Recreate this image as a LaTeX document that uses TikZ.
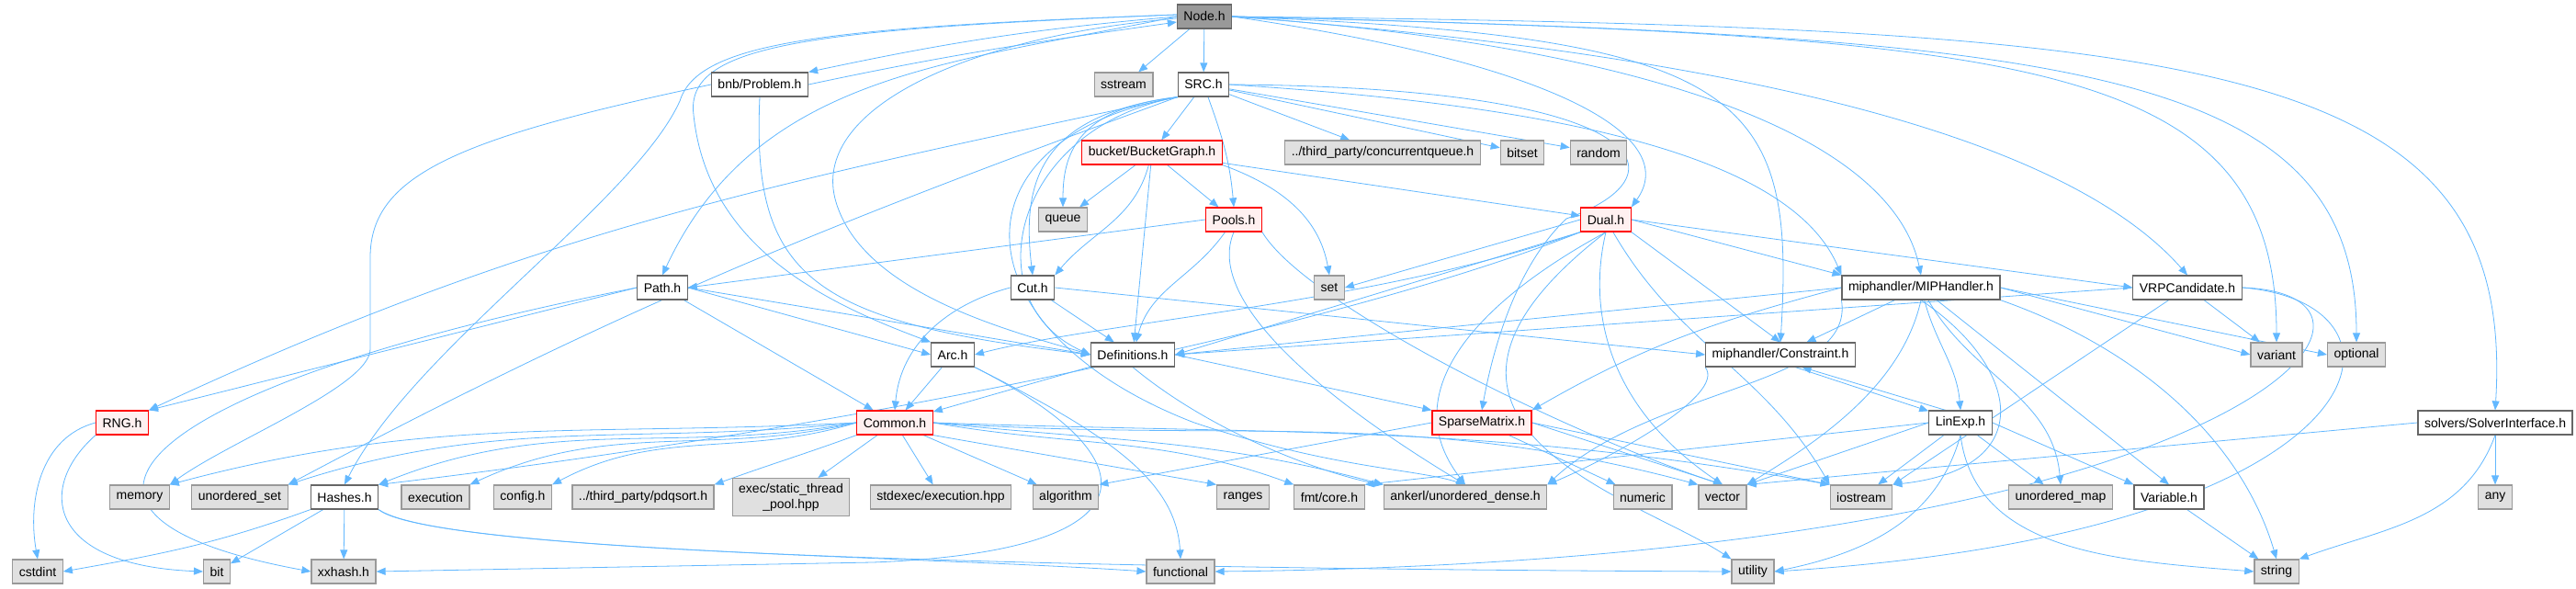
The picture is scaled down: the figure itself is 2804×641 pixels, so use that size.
\documentclass[tikz,border=0pt]{standalone}
\usepackage{fontspec}
\setmainfont{Liberation Sans}
\usepackage{tikz}
\usetikzlibrary{arrows.meta,backgrounds}

\begin{document}
\begin{tikzpicture}[x=0.5pt, y=-0.5pt, line width=0.6pt,
    dep/.style={draw=edgeblue, -{Triangle[length=5pt,width=4pt]}},
    hdr/.style={draw=usrline, fill=white, inner xsep=3.5pt, inner ysep=0pt, minimum height=13pt, font=\fontsize{7}{8.4}\selectfont, align=center},
    sys/.style={hdr, draw=sysline, fill=sysfill},
    trunc/.style={hdr, draw=red, fill=truncfill},
    root/.style={hdr, fill=rootfill}]
    \definecolor{edgeblue}{HTML}{63B8FF}\definecolor{sysfill}{HTML}{E0E0E0}\definecolor{sysline}{HTML}{999999}
    \definecolor{usrline}{HTML}{666666}\definecolor{rootfill}{HTML}{999999}\definecolor{truncfill}{HTML}{FFF0F0}
    \useasboundingbox (0,0) rectangle (2804,641);
    \node[root]  (node)     at (1311,18)  {Node.h};
    \node[sys]   (sstream)  at (1223,92)  {sstream};
    \node[hdr]   (src)      at (1310,92)  {SRC.h};
    \node[hdr]   (problem)  at (827,92)   {bnb/Problem.h};
    \node[trunc] (bucket)   at (1254,166) {bucket/BucketGraph.h};
    \node[sys]   (cqueue)   at (1505,166) {../third\_party/concurrentqueue.h};
    \node[sys]   (bitset)   at (1657,166) {bitset};
    \node[sys]   (random)   at (1740,166) {random};
    \node[sys]   (queue)    at (1157,239) {queue};
    \node[trunc] (pools)    at (1343,239) {Pools.h};
    \node[trunc] (dual)     at (1748,239) {Dual.h};
    \node[hdr]   (path)     at (721,313)  {Path.h};
    \node[hdr]   (cut)      at (1124,313) {Cut.h};
    \node[sys]   (set)      at (1447,313) {set};
    \node[hdr]   (mip)      at (2091,313) {miphandler/MIPHandler.h};
    \node[hdr]   (vrp)      at (2381,313) {VRPCandidate.h};
    \node[hdr]   (arc)      at (1037,386) {Arc.h};
    \node[hdr]   (defs)     at (1233,386) {Definitions.h};
    \node[hdr]   (constr)   at (1938,386) {miphandler/Constraint.h};
    \node[sys]   (variant)  at (2478,386) {variant};
    \node[sys]   (optional) at (2565,386) {optional};
    \node[trunc] (rng)      at (133,460)  {RNG.h};
    \node[trunc] (common)   at (974,460)  {Common.h};
    \node[trunc] (sparse)   at (1613,460) {SparseMatrix.h};
    \node[hdr]   (linexp)   at (2134,460) {LinExp.h};
    \node[hdr]   (solver)   at (2716,460) {solvers/SolverInterface.h};
    \node[sys]   (memory)   at (152,541)  {memory};
    \node[sys]   (uset)     at (261,541)  {unordered\_set};
    \node[hdr]   (hashes)   at (375,541)  {Hashes.h};
    \node[sys]   (execution) at (474,541) {execution};
    \node[sys]   (config)   at (569,541)  {config.h};
    \node[sys]   (pdqsort)  at (700,541)  {../third\_party/pdqsort.h};
    \node[sys, minimum height=20.5pt] (pool) at (861,541) {exec/static\_thread\\\_pool.hpp};
    \node[sys]   (stdexec)  at (1024,541) {stdexec/execution.hpp};
    \node[sys]   (algorithm) at (1160,541) {algorithm};
    \node[sys]   (ranges)   at (1353,541) {ranges};
    \node[sys]   (fmt)      at (1447,541) {fmt/core.h};
    \node[sys]   (ankerl)   at (1595,541) {ankerl/unordered\_dense.h};
    \node[sys]   (numeric)  at (1788,541) {numeric};
    \node[sys]   (vector)   at (1875,541) {vector};
    \node[sys]   (iostream) at (2026,541) {iostream};
    \node[sys]   (umap)     at (2243,541) {unordered\_map};
    \node[hdr]   (variable) at (2361,541) {Variable.h};
    \node[sys]   (any)      at (2716,541) {any};
    \node[sys]   (cstdint)  at (41,622)   {cstdint};
    \node[sys]   (bit)      at (236,622)  {bit};
    \node[sys]   (xxhash)   at (374,622)  {xxhash.h};
    \node[sys]   (functional) at (1285,622) {functional};
    \node[sys]   (utility)  at (1908,622) {utility};
    \node[sys]   (string)   at (2478,622) {string};
    \begin{pgfonlayer}{background}
    \draw[dep] (node) -- (sstream);
    \draw[dep] (node) -- (src);
    \draw[dep] (node.west) to[out=185,in=12] (problem.north east);
    \draw[dep] (problem.east) to[out=12,in=188] ([yshift=-3pt]node.west);
    \draw[dep] (node.west) to[out=192,in=65] (path.north);
    \draw[dep] ([yshift=1pt]node.west) .. controls (900,30) and (760,45) .. (740,110) .. controls (690,220) and (450,380) .. (hashes.north);
    \draw[dep] ([yshift=1pt]node.west) .. controls (880,32) and (745,48) .. (755,125) .. controls (770,270) and (900,330) .. (arc.north west);
    \draw[dep] ([yshift=-1pt]node.west) .. controls (1050,40) and (880,120) .. (910,220) .. controls (940,320) and (1100,360) .. (defs.west);
    \draw[dep] (node.east) .. controls (1700,70) and (1830,150) .. (dual.north east);
    \draw[dep] (node.east) .. controls (1800,50) and (2060,150) .. (mip.north);
    \draw[dep] (node.east) .. controls (1900,40) and (1955,100) .. (constr.north);
    \draw[dep] (node.east) .. controls (1900,60) and (2250,150) .. (vrp.north);
    \draw[dep] (node.east) .. controls (2200,40) and (2478,60) .. (variant.north);
    \draw[dep] (node.east) .. controls (2250,40) and (2565,70) .. (optional.north);
    \draw[dep] (node.east) .. controls (2400,30) and (2740,60) .. (solver.north);
    \draw[dep] (problem.west) .. controls (500,150) and (403,190) .. (403,280) -- (403,380) .. controls (403,420) and (250,480) .. (memory.north east);
    \draw[dep] (problem.south) .. controls (818,300) and (880,350) .. (defs.west);
    \draw[dep] (src) -- (bucket);
    \draw[dep] (src) to[out=-70,in=95] (pools.north);
    \draw[dep] (src.south west) .. controls (1170,118) and (1157,170) .. (queue.north);
    \draw[dep] (src.south west) .. controls (1130,125) and (1112,200) .. (cut.north);
    \draw[dep] (src) -- (cqueue);
    \draw[dep] (src) -- (bitset);
    \draw[dep] (src) -- (random);
    \draw[dep] (src.east) .. controls (1700,115) and (1950,170) .. (mip.north west);
    \draw[dep] (src.east) .. controls (1800,95) and (1840,190) .. (1705,238) .. controls (1650,290) and (1625,380) .. (sparse.north);
    \draw[dep] (src.south west) to[out=192,in=25] (rng.north east);
    \draw[dep] (src.south west) to[out=200,in=28] (uset.north east);
    \draw[dep] (src.south west) .. controls (1100,140) and (1060,330) .. (defs.west);
    \draw[dep] (src.south west) .. controls (1030,150) and (1040,360) .. (1300,460) .. controls (1450,510) and (1540,510) .. (ankerl.north);
    \draw[dep] (bucket) -- (queue);
    \draw[dep] (bucket) -- (pools);
    \draw[dep] (bucket) to[out=-105,in=50] (cut.north east);
    \draw[dep] (bucket) -- (defs);
    \draw[dep] (bucket.south east) to[out=-20,in=100] (set.north);
    \draw[dep] (bucket) -- (dual);
    \draw[dep] (pools.west) -- (path.east);
    \draw[dep] (pools) to[out=-125,in=75] (defs);
    \draw[dep] (pools.south) .. controls (1310,330) and (1450,440) .. (ankerl.north);
    \draw[dep] (pools.south east) .. controls (1420,330) and (1700,470) .. (vector.north);
    \draw[dep] (cut.west) to[out=195,in=85] (common.north);
    \draw[dep] (cut) -- (defs);
    \draw[dep] (cut.east) -- (constr.west);
    \draw[dep] (arc) -- (common);
    \draw[dep] (arc.south east) .. controls (1260,500) and (1260,600) .. (950,612) -- (xxhash.east);
    \draw[dep] (arc.south east) .. controls (1200,470) and (1280,520) .. (functional.north);
    \draw[dep] (defs) -- (common);
    \draw[dep] (defs.east) -- (sparse.north west);
    \draw[dep] (defs.south) .. controls (1330,480) and (1460,520) .. (ankerl.north west);
    \draw[dep] (path.west) -- (rng.north east);
    \draw[dep] (path.west) .. controls (150,420) and (0,560) .. (xxhash.west);
    \draw[dep] (path) -- (common);
    \draw[dep] (path.east) -- (arc.west);
    \draw[dep] (path.east) -- (defs.west);
    \draw[dep] (rng.west) to[out=195,in=100] (cstdint.north);
    \draw[dep] (rng.south west) .. controls (40,530) and (50,615) .. (bit.west);
    \draw[dep] (hashes.south west) to[out=200,in=10] (cstdint.east);
    \draw[dep] (hashes) -- (bit);
    \draw[dep] (hashes) -- (xxhash);
    \draw[dep] (hashes.south east) .. controls (480,600) and (1000,605) .. (functional.west);
    \draw[dep] (hashes.south east) .. controls (480,610) and (1400,620) .. (utility.west);
    \draw[dep] (common.west) to[out=183,in=15] (memory.north east);
    \draw[dep] (common.west) to[out=186,in=18] (uset.north east);
    \draw[dep] (common.west) to[out=190,in=22] (hashes.north east);
    \draw[dep] (common.west) to[out=193,in=25] (execution.north east);
    \draw[dep] (common.west) to[out=197,in=28] (config.north east);
    \draw[dep] (common.south west) to[out=200,in=20] (pdqsort.north east);
    \draw[dep] (common) -- (pool);
    \draw[dep] (common) -- (stdexec);
    \draw[dep] (common) -- (algorithm);
    \draw[dep] (common.south east) -- (ranges.north west);
    \draw[dep] (common.east) to[out=-10,in=160] (fmt.north west);
    \draw[dep] (common.east) to[out=-6,in=165] (ankerl.north west);
    \draw[dep] (common.east) to[out=-2,in=170] (iostream.north west);
    \draw[dep] (common.east) to[out=-4,in=165] (vector.north west);
    \draw[dep] (dual.west) -- (set.east);
    \draw[dep] (dual.south west) .. controls (1500,330) and (1200,350) .. (arc.east);
    \draw[dep] (dual.south west) -- (defs.east);
    \draw[dep] (dual.south west) .. controls (1450,360) and (900,470) .. (hashes.north east);
    \draw[dep] (dual.south) .. controls (1600,333) and (1520,430) .. (ankerl.north);
    \draw[dep] (dual.south) .. controls (1480,460) and (1780,540) .. (utility.north west);
    \draw[dep] (dual.south) .. controls (1725,350) and (1760,450) .. (vector.north);
    \draw[dep] (dual) to[out=-60,in=120] (iostream.north west);
    \draw[dep] (dual.south east) -- (constr.north);
    \draw[dep] (dual.east) -- (mip.north west);
    \draw[dep] (dual.east) -- (vrp.west);
    \draw[dep] (mip) -- (constr);
    \draw[dep] (mip) to[out=-75,in=95] (linexp.north);
    \draw[dep] (mip.west) to[out=195,in=30] (sparse.north east);
    \draw[dep] (mip.west) -- (defs.east);
    \draw[dep] (mip.south) .. controls (2200,400) and (2220,510) .. (iostream.north east);
    \draw[dep] (mip.south) .. controls (2070,420) and (1980,480) .. (vector.north east);
    \draw[dep] (mip) to[out=-60,in=95] (umap.north);
    \draw[dep] (mip) -- (variable.north);
    \draw[dep] (mip.south east) .. controls (2330,380) and (2440,480) .. (string.north);
    \draw[dep] (mip.east) -- (optional.west);
    \draw[dep] (mip.east) -- (variant.west);
    \draw[dep] (mip.south west) .. controls (2020,420) and (1800,420) .. (ankerl.north east);
    \draw[dep] (constr.-40) -- (linexp.160);
    \draw[dep] (linexp.140) -- (constr.-30);
    \draw[dep] (constr.south west) .. controls (1880,430) and (1750,500) .. (ankerl.north east);
    \draw[dep] (linexp.west) -- (vector.north east);
    \draw[dep] (linexp) -- (iostream);
    \draw[dep] (linexp.south) .. controls (2110,560) and (2040,600) .. (utility.east);
    \draw[dep] (linexp.south) .. controls (2150,600) and (2300,610) .. (string.west);
    \draw[dep] (linexp) -- (umap);
    \draw[dep] (linexp.east) -- (variable.north west);
    \draw[dep] (linexp.west) -- (fmt.north east);
    \draw[dep] (vrp) -- (variant);
    \draw[dep] (vrp) -- (iostream.north east);
    \draw[dep] (vrp.west) -- (defs.east);
    \draw[dep] (vrp.east) .. controls (2650,330) and (2600,580) .. (utility.east);
    \draw[dep] (vrp.east) .. controls (2660,320) and (2450,610) .. (functional.east);
    \draw[dep] (sparse) -- (numeric);
    \draw[dep] (sparse.east) -- (vector.north);
    \draw[dep] (sparse.west) -- (algorithm.north east);
    \draw[dep] (sparse.east) -- (iostream.north west);
    \draw[dep] (variable) -- (string);
    \draw[dep] (solver) -- (any);
    \draw[dep] (solver.south) to[out=-110,in=20] (string.north east);
    \draw[dep] (solver.west) -- (vector.north east);
    \end{pgfonlayer}
  \end{tikzpicture}
\end{document}
